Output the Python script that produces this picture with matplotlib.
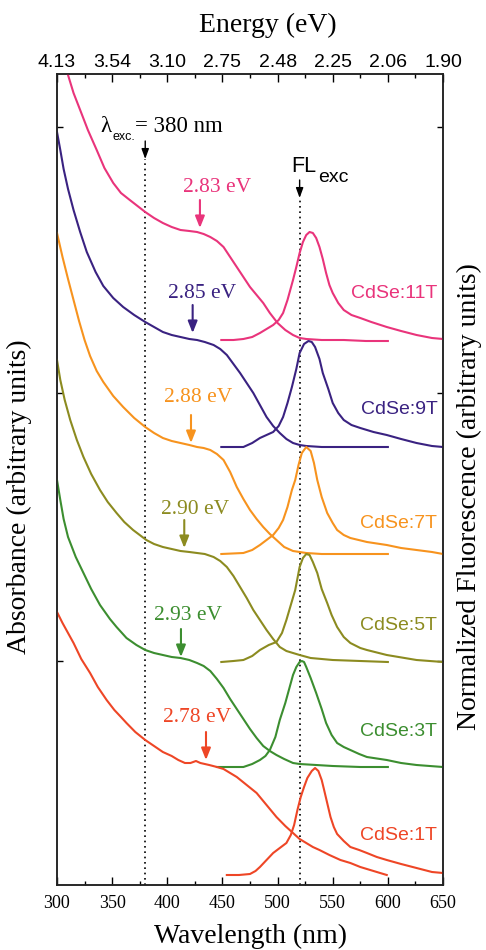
import matplotlib
matplotlib.use('Agg')
import matplotlib.pyplot as plt

SERIF = 'Liberation Serif'
SANS = 'Liberation Sans'

# ---------------- data ----------------
wl_ticks = [300, 350, 400, 450, 500, 550, 600, 650]
wl_minor = [325, 375, 425, 475, 525, 575, 625]
energy_labels = ['4.13', '3.54', '3.10', '2.75', '2.48', '2.25', '2.06', '1.90']
y_ticks = [224, 492, 758]

samples = ['CdSe:11T', 'CdSe:9T', 'CdSe:7T', 'CdSe:5T', 'CdSe:3T', 'CdSe:1T']
colors = ['#E9347B', '#3A2281', '#F7931E', '#8C8B20', '#3C8E30', '#EE4626']
edge_labels = ['2.83 eV', '2.85 eV', '2.88 eV', '2.90 eV', '2.93 eV', '2.78 eV']
edge_wl = [429.6, 423.0, 421.5, 415.4, 412.4, 435.1]
edge_y = [657, 552, 442, 337, 228, 125]
exc_wl = [380, 520]

abs11_wl = [300, 305, 310, 315, 321, 328, 336, 343, 351, 358, 366, 373, 380, 388, 396, 404, 412, 420,
            427, 433, 439, 445, 451, 457, 463, 469, 475, 481, 487, 493, 500, 507, 514, 520, 526, 540,
            560, 580, 600]
abs11_y = [850, 830, 810, 792, 775, 755, 735, 717, 702, 692, 685, 679, 673, 667, 662, 658, 655, 654,
           653, 651, 648, 644, 638, 628, 618, 608, 598, 590, 582, 572, 562, 555, 550, 547, 546, 545,
           545, 544, 544]
fl11_wl = [449, 460, 469, 477, 484, 490, 496, 501, 505, 509, 514, 517, 520, 523, 526, 529, 532, 535,
           538, 541, 544, 547, 550, 555, 560, 567, 575, 585, 599, 612, 626, 640, 650]
fl11_y = [545, 545, 546, 548, 552, 556, 560, 565, 572, 585, 605, 618, 632, 643, 650, 653, 652, 647,
          638, 626, 612, 600, 592, 582, 575, 570, 567, 563, 558, 554, 550, 547, 546]

abs9_wl = [300, 303, 306, 310, 315, 321, 327, 335, 342, 351, 360, 370, 380, 388, 396, 404, 412, 420,
           427, 434, 442, 448, 454, 460, 466, 472, 478, 484, 490, 496, 502, 508, 514, 520, 526, 540,
           560, 580, 600]
abs9_y = [753, 735, 716, 696, 675, 653, 633, 613, 599, 587, 578, 570, 563, 558, 553, 550, 548, 546,
          545, 543, 540, 536, 530, 521, 512, 502, 492, 480, 468, 459, 452, 446, 442, 440, 439, 438,
          438, 438, 438]
fl9_wl = [449, 460, 469, 477, 484, 490, 496, 501, 505, 509, 513, 517, 520, 524, 528, 531, 534, 538,
          541, 546, 550, 555, 560, 567, 575, 587, 599, 612, 626, 640, 650]
fl9_y = [438, 438, 438, 442, 447, 450, 453, 459, 468, 482, 498, 516, 532, 541, 544, 543, 538, 526,
         512, 496, 482, 472, 465, 460, 457, 453, 450, 446, 442, 439, 438]

abs7_wl = [300, 305, 310, 315, 320, 325, 330, 336, 342, 351, 360, 370, 380, 388, 396, 404, 412, 420,
           427, 433, 439, 445, 451, 457, 463, 469, 475, 481, 487, 493, 499, 506, 514, 520, 526, 540,
           560, 580, 600]
abs7_y = [652, 628, 606, 585, 564, 545, 529, 514, 503, 489, 478, 467, 458, 452, 447, 444, 442, 440,
          438, 437, 435, 431, 425, 413, 398, 386, 375, 366, 358, 351, 345, 338, 334, 333, 332, 331,
          331, 331, 331]
fl7_wl = [449, 469, 477, 484, 490, 496, 501, 505, 509, 513, 516, 519, 522, 526, 530, 533, 536, 540,
          545, 550, 554, 560, 566, 581, 599, 612, 626, 640, 650]
fl7_y = [331, 332, 335, 340, 345, 350, 357, 365, 378, 395, 405, 420, 432, 438, 434, 422, 405, 388,
         372, 362, 355, 350, 347, 343, 340, 337, 335, 333, 331]

abs5_wl = [300, 303, 307, 312, 318, 324, 331, 339, 346, 354, 361, 369, 381, 388, 396, 404, 412, 420,
           427, 434, 442, 448, 454, 460, 466, 472, 478, 484, 490, 496, 502, 508, 514, 520, 530, 550,
           575, 600]
abs5_y = [525, 505, 485, 465, 445, 428, 411, 395, 383, 372, 363, 355, 345, 341, 338, 336, 334, 333,
          332, 331, 328, 324, 318, 309, 298, 287, 275, 265, 255, 246, 238, 234, 232, 230, 227, 225,
          224, 223]
fl5_wl = [449, 460, 469, 477, 484, 492, 499, 504, 508, 512, 516, 520, 523, 526, 529, 532, 536, 540,
          545, 549, 554, 560, 566, 575, 581, 599, 626, 650]
fl5_y = [223, 224, 225, 229, 235, 240, 243, 252, 265, 280, 295, 318, 327, 331, 330, 323, 312, 296,
         282, 270, 258, 248, 242, 237, 235, 230, 225, 223]

abs3_wl = [300, 303, 306, 310, 317, 324, 331, 339, 348, 354, 363, 372, 380, 388, 396, 404, 412, 420,
           427, 433, 439, 445, 451, 457, 463, 469, 475, 481, 487, 493, 499, 506, 514, 520, 535, 550,
           575, 600]
abs3_y = [405, 385, 366, 348, 328, 312, 296, 280, 266, 258, 247, 240, 235, 232, 230, 228, 227, 225,
          222, 219, 214, 206, 197, 186, 176, 166, 156, 147, 139, 134, 130, 126, 122, 121, 120, 119,
          118, 118]
fl3_wl = [445, 460, 469, 477, 484, 489, 493, 498, 502, 507, 511, 514, 517, 520, 522, 524, 526, 530,
          535, 540, 544, 549, 554, 560, 566, 574, 581, 599, 612, 626, 650]
fl3_y = [118, 118, 118, 121, 125, 129, 135, 148, 165, 182, 198, 210, 218, 223, 224, 223, 218, 207,
         192, 176, 162, 150, 142, 138, 135, 131, 128, 125, 122, 120, 118]

abs1_wl = [300, 305, 310, 315, 322, 330, 337, 345, 352, 358, 363, 371, 380, 388, 396, 404, 410, 416,
           421, 426, 430, 438, 445, 451, 457, 463, 472, 481, 490, 499, 507, 514, 520, 526, 532, 538,
           547, 557, 566, 575, 587, 599]
abs1_y = [273, 262, 252, 242, 226, 212, 198, 185, 175, 168, 162, 153, 145, 139, 133, 129, 125, 122,
          122, 124, 122, 120, 118, 116, 112, 108, 100, 92, 80, 68, 59, 52, 46, 42, 38, 35,
          30, 25, 22, 18, 14, 10]
fl1_wl = [454, 465, 475, 480, 484, 490, 496, 502, 508, 512, 515, 518, 521, 524, 527, 531, 534, 537,
          540, 542, 545, 548, 551, 554, 560, 566, 574, 581, 590, 599, 612, 626, 640, 650]
fl1_y = [10, 10, 11, 14, 18, 25, 32, 37, 42, 50, 60, 75, 88, 98, 107, 114, 117, 114, 105, 96, 82,
         68, 58, 51, 44, 38, 35, 32, 28, 25, 21, 17, 13, 12]

abs_wl = [abs11_wl, abs9_wl, abs7_wl, abs5_wl, abs3_wl, abs1_wl]
abs_y = [abs11_y, abs9_y, abs7_y, abs5_y, abs3_y, abs1_y]
fl_wl = [fl11_wl, fl9_wl, fl7_wl, fl5_wl, fl3_wl, fl1_wl]
fl_y = [fl11_y, fl9_y, fl7_y, fl5_y, fl3_y, fl1_y]

# label placement (styling)
name_x = 645.0
name_y = [592, 475, 362, 259, 154, 50]
edge_text_xy = [(444.8, 698), (431.9, 591), (427.8, 487), (425.1, 376), (419.0, 270), (426.9, 168)]

# ---------------- figure ----------------
W, H = 486, 950
fig = plt.figure(figsize=(W / 100, H / 100), dpi=100)
ax = fig.add_axes([57 / W, 65 / H, 386 / W, 811 / H])
ax.set_xlim(300, 650)
ax.set_ylim(0, 811)

for i in range(len(samples)):
    c = colors[i]
    ax.plot(abs_wl[i], abs_y[i], color=c, lw=1.5, solid_joinstyle='round', zorder=3)
    ax.plot(fl_wl[i], fl_y[i], color=c, lw=1.5, solid_joinstyle='round', zorder=3)
    ax.text(name_x, name_y[i], samples[i], color=c, family=SANS, fontsize=14,
            ha='right', va='center')
    tx, ty = edge_text_xy[i]
    ax.text(tx, ty, edge_labels[i], color=c, family=SERIF, fontsize=15.5,
            ha='center', va='center')
    ax.annotate('', xy=(edge_wl[i], edge_y[i]), xytext=(edge_wl[i], edge_y[i] + 28),
                arrowprops=dict(arrowstyle='-|>,head_length=0.7,head_width=0.28',
                                color=c, lw=1.5, shrinkA=0, shrinkB=0))

# excitation markers
exc_top = [726, 687]
for x, top in zip(exc_wl, exc_top):
    ax.plot([x, x], [0, top], color='black', lw=1.2, ls=(0, (1, 2.2)), zorder=2)
    ax.annotate('', xy=(x, top), xytext=(x, top + 18),
                arrowprops=dict(arrowstyle='-|>,head_length=0.6,head_width=0.22',
                                color='black', lw=1.0, shrinkA=0, shrinkB=0))

ax.text(339.0, 753, 'λ', family=SERIF, fontsize=16.5, ha='left', va='baseline')
ax.text(350.5, 745, 'exc.', family=SANS, fontsize=9, ha='left', va='baseline')
ax.text(370.5, 753, '= 380 nm', family=SERIF, fontsize=16.5, ha='left', va='baseline')
ax.text(512.8, 713, 'FL', family=SANS, fontsize=15.5, ha='left', va='baseline')
ax.text(536.5, 703, 'exc', family=SANS, fontsize=14, ha='left', va='baseline')

# axes styling
for s in ax.spines.values():
    s.set_linewidth(1.1)
    s.set_color('#222222')
ax.set_xticks(wl_ticks)
ax.set_xticks(wl_minor, minor=True)
ax.set_xticklabels([str(v) for v in wl_ticks], family=SERIF, fontsize=13)
ax.set_yticks(y_ticks)
ax.set_yticklabels([])
ax.tick_params(axis='x', which='major', direction='in', length=5.5, width=1, pad=7)
ax.tick_params(axis='x', which='minor', direction='in', length=3, width=1)
ax.tick_params(axis='y', which='major', direction='in', length=4.5, width=1, left=True, right=True)

ax2 = ax.twiny()
ax2.set_xlim(300, 650)
ax2.set_xticks(wl_ticks)
ax2.set_xticks(wl_minor, minor=True)
ax2.set_xticklabels(energy_labels, family=SANS, fontsize=14)
ax2.tick_params(axis='x', which='major', direction='in', length=5.5, width=1, pad=2.5)
ax2.tick_params(axis='x', which='minor', direction='in', length=3, width=1)
for s in ax2.spines.values():
    s.set_linewidth(1.1)
    s.set_color('#222222')

fig.text(250 / W, 1 - 936 / H, 'Wavelength (nm)', family=SERIF, fontsize=20, ha='center', va='center')
fig.text(268 / W, 1 - 25 / H, 'Energy (eV)', family=SERIF, fontsize=20, ha='center', va='center')
fig.text(19 / W, 1 - 497 / H, 'Absorbance (arbitrary units)', family=SERIF, fontsize=20,
         rotation=90, ha='center', va='center')
fig.text(469 / W, 1 - 497 / H, 'Normalized Fluorescence (arbitrary units)', family=SERIF,
         fontsize=20, rotation=90, ha='center', va='center')

fig.savefig('out.png', dpi=100)
